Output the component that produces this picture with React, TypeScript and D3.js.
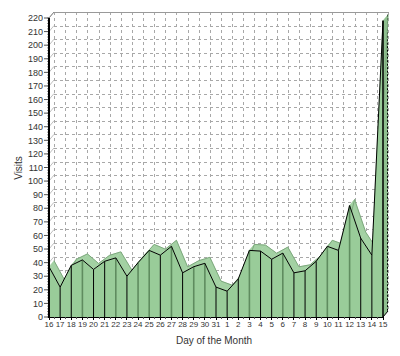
import React from "react";
import * as d3 from "d3";

const days = ["16","17","18","19","20","21","22","23","24","25","26","27","28","29","30","31","1","2","3","4","5","6","7","8","9","10","11","12","13","14","15"];
const visits = [37,22,38,42,35,41,43.5,30,40,49,45.5,52,32.5,37,39.5,22,19,28,49,48.5,42.5,47,32.5,34,41,52,49,82,58,45.5,218];
const yTicks = d3.range(0, 221, 10);

const W = 400, H = 356;
const DX = 5, DY = -6;
const GREEN = "#99cc99";
const TOP = "#a3d1a3";

export default function App() {
  const x = d3.scalePoint<string>().domain(days).range([49, 383]);
  const y = d3.scaleLinear().domain([0, 220]).range([317, 18]);
  const pts = days.map((d, i) => [x(d) as number, y(visits[i])] as [number, number]);
  const y0 = y(0);
  const xL = x(days[0]) as number;
  const xR = x(days[days.length - 1]) as number;
  const line = d3.line();
  const area = d3.area<[number, number]>().x(p => p[0]).y0(y0).y1(p => p[1]);

  const last = pts[pts.length - 1];

  const vColor = (i: number) => {
    if (i === 0 || i === visits.length - 1) return "#000";
    const p = visits[i - 1], c = visits[i], n = visits[i + 1];
    if (c > p && c > n) return "#5f8c5f";
    if (Math.abs(2 * c - p - n) < 3) return "#5f8c5f";
    return "#000";
  };

  return (
    <svg width={W} height={H} style={{ position: "absolute", left: 0, top: 0 }} fontFamily="'Liberation Sans', Arial, sans-serif">
      <rect width={W} height={H} fill="#fff" />
      {/* back wall grid */}
      {yTicks.map(t => (
        <line key={"h" + t} x1={xL + DX} x2={xR + DX} y1={Math.round(y(t) + DY) + 0.5} y2={Math.round(y(t) + DY) + 0.5}
          stroke="#a8a8a8" strokeWidth={1} strokeDasharray="3,3" />
      ))}
      {days.map(d => (
        <line key={"v" + d} x1={Math.round((x(d) as number) + DX) + 0.5} x2={Math.round((x(d) as number) + DX) + 0.5} y1={y(220) + DY} y2={y0 + DY}
          stroke="#a8a8a8" strokeWidth={1} strokeDasharray="3,3" />
      ))}
      {/* left wall diagonals */}
      {yTicks.map(t => (
        <line key={"dg" + t} x1={xL} y1={y(t)} x2={xL + DX} y2={y(t) + DY} stroke="#b0b0b0" strokeWidth={0.8} />
      ))}
      {/* wall top border */}
      <line x1={xL + DX} x2={xR + DX + 1} y1={Math.round(y(220) + DY) + 0.5} y2={Math.round(y(220) + DY) + 0.5} stroke="#999" strokeWidth={1} />
      <line x1={xL} y1={y(220)} x2={xL + DX} y2={y(220) + DY} stroke="#888" strokeWidth={1} />
      {/* top faces */}
      {pts.slice(0, -1).map((p, i) => {
        const q = pts[i + 1];
        const poly = [p, q, [q[0] + DX, q[1] + DY], [p[0] + DX, p[1] + DY]] as [number, number][];
        return <path key={"t" + i} d={line(poly) + "Z"} fill={TOP} stroke={TOP} strokeWidth={0.5} />;
      })}
      {/* right end face */}
      <path d={line([last, [last[0] + DX, last[1] + DY], [last[0] + DX, y0 + DY], [last[0], y0]]) + "Z"} fill="#8fc08f" />
      <line x1={last[0] + DX - 0.5} x2={last[0] + DX - 0.5} y1={last[1] + DY} y2={y0 + DY} stroke="#000" strokeWidth={1} strokeDasharray="2,1.5" />
      {/* back edge */}
      <path d={line(pts.map(p => [p[0] + DX, p[1] + DY] as [number, number])) as string} fill="none" stroke="#7da87d" strokeWidth={1} />
      {/* front face */}
      <path d={area(pts) as string} fill={GREEN} />
      {pts.map((p, i) => (
        <line key={"vl" + i} x1={p[0]} x2={p[0]} y1={p[1]} y2={y0}
          stroke={vColor(i)} strokeWidth={vColor(i) === "#000" ? 1 : 1.6} />
      ))}
      <path d={line(pts) as string} fill="none" stroke="#000" strokeWidth={1} />
      <line x1={last[0]} x2={last[0]} y1={last[1]} y2={y0} stroke="#000" strokeWidth={1} />
      {/* floor */}
      <line x1={xL} x2={xR} y1={y0 + 0.5} y2={y0 + 0.5} stroke="#000" strokeWidth={1} />
      <line x1={xR} y1={y0} x2={xR + DX} y2={y0 + DY} stroke="#000" strokeWidth={1} />
      {/* x ticks */}
      {days.map((d, i) => (
        <g key={"xt" + d}>
          <line x1={x(d)} x2={x(d)} y1={y0} y2={y0 + 3} stroke="#000" strokeWidth={1} shapeRendering="crispEdges" />
          {i < days.length - 1 && (
            <line x1={(x(d) as number) + x.step() / 2} x2={(x(d) as number) + x.step() / 2} y1={y0} y2={y0 + 2} stroke="#555" strokeWidth={1} shapeRendering="crispEdges" />
          )}
          <text x={x(d)} y={y0 + 10} textAnchor="middle" fontSize={8} fill="#333">{d}</text>
        </g>
      ))}
      {/* y axis */}
      {d3.range(0, 221, 2).map(t => (
        <line key={"ym" + t} x1={xL - 2} x2={xL} y1={y(t)} y2={y(t)} stroke="#444" strokeWidth={0.6} />
      ))}
      {yTicks.map(t => (
        <g key={"yt" + t}>
          <line x1={xL - 5} x2={xL} y1={y(t)} y2={y(t)} stroke="#555" strokeWidth={1} />
          <text x={xL - 6} y={y(t) + 3.2} textAnchor="end" fontSize={9} fill="#333">{t}</text>
        </g>
      ))}
      <line x1={xL} x2={xL} y1={y(220)} y2={y0 + 1} stroke="#000" strokeWidth={2} />
      {/* titles */}
      <text x={214} y={344} textAnchor="middle" fontSize={10} fill="#333">Day of the Month</text>
      <text transform="translate(22,168) rotate(-90)" textAnchor="middle" fontSize={10} fill="#333">Visits</text>
    </svg>
  );
}
